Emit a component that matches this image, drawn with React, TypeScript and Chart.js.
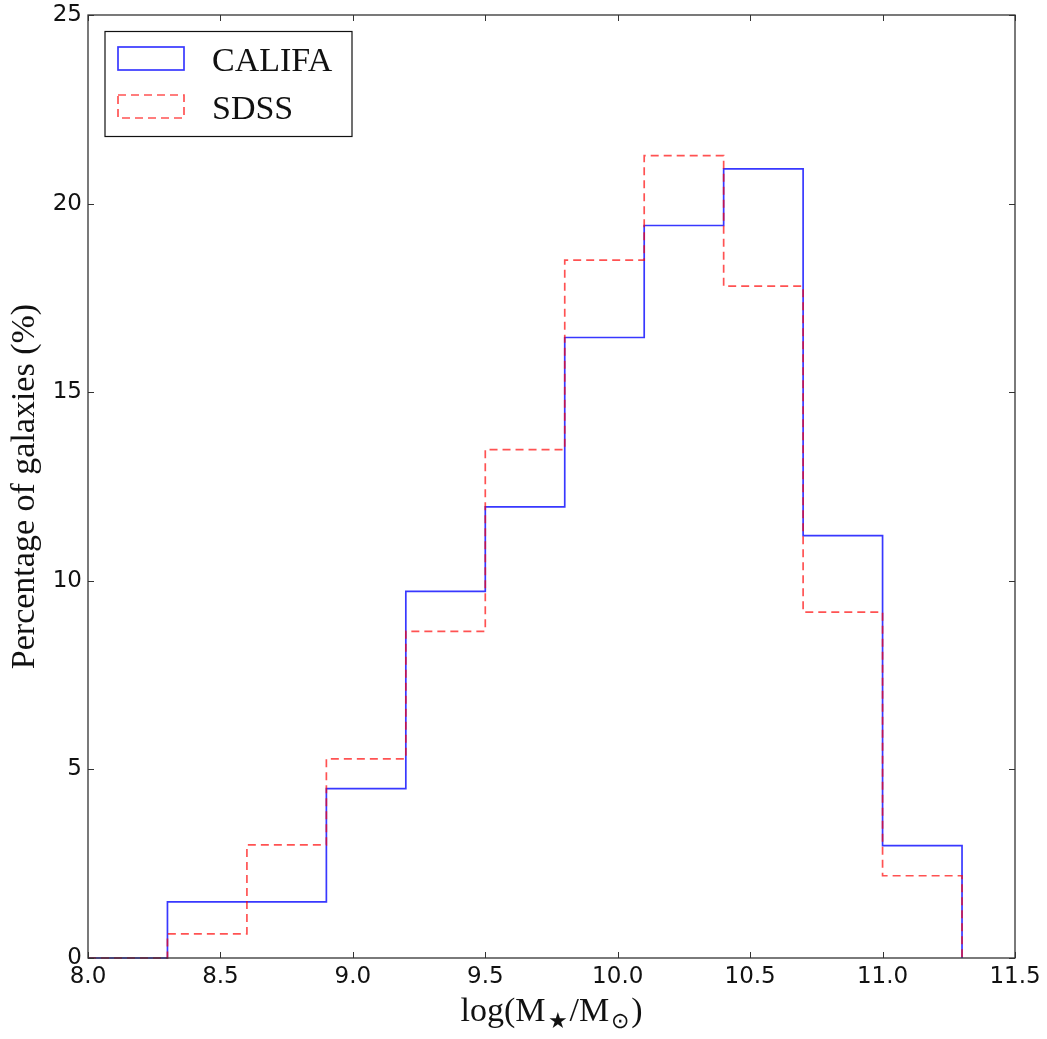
import React, { useEffect, useRef } from "react";
import { Chart, registerables } from "chart.js";

Chart.register(...registerables);

// ---- data ----
const binEdges = [8.0, 8.3, 8.6, 8.9, 9.2, 9.5, 9.8, 10.1, 10.4, 10.7, 11.0, 11.3];
const califaPct = [0, 1.49, 1.49, 4.49, 9.72, 11.96, 16.45, 19.42, 20.92, 11.2, 2.98];
const sdssPct = [0, 0.64, 3.0, 5.28, 8.66, 13.48, 18.5, 21.27, 17.81, 9.17, 2.18];
const seriesNames = ["CALIFA", "SDSS"];
const xTickValues = [8.0, 8.5, 9.0, 9.5, 10.0, 10.5, 11.0, 11.5];
const yTickValues = [0, 5, 10, 15, 20, 25];
const yTitle = "Percentage of galaxies (%)";

const BLUE = "rgba(0,0,255,0.78)";
const RED = "rgba(255,0,0,0.68)";
const DASH = [8, 5];
const SERIF = "'Liberation Serif', 'Times New Roman', serif";
const SANS = "'DejaVu Sans', sans-serif";

function stepOutline(edges: number[], values: number[]) {
  const pts: { x: number; y: number }[] = [{ x: edges[0], y: 0 }];
  values.forEach((v, i) => {
    pts.push({ x: edges[i], y: v });
    pts.push({ x: edges[i + 1], y: v });
  });
  pts.push({ x: edges[edges.length - 1], y: 0 });
  return pts;
}

const framePlugin = {
  id: "frame",
  afterDatasetsDraw(chart: any) {
    const { ctx, chartArea, scales } = chart;
    const { left, right, top, bottom } = chartArea;
    const xs = scales.x;
    const ys = scales.y;
    const tl = 6;
    ctx.save();
    ctx.strokeStyle = "#333";
    ctx.lineWidth = 1;
    ctx.beginPath();
    xTickValues.forEach((v) => {
      const px = Math.round(xs.getPixelForValue(v)) + 0.5;
      ctx.moveTo(px, bottom);
      ctx.lineTo(px, bottom - tl);
      ctx.moveTo(px, top);
      ctx.lineTo(px, top + tl);
    });
    yTickValues.forEach((v) => {
      const py = Math.round(ys.getPixelForValue(v)) + 0.5;
      ctx.moveTo(left, py);
      ctx.lineTo(left + tl, py);
      ctx.moveTo(right, py);
      ctx.lineTo(right - tl, py);
    });
    ctx.stroke();
    ctx.lineWidth = 1.3;
    ctx.strokeStyle = "#333";
    ctx.strokeRect(left, top, right - left, bottom - top);
    ctx.restore();
  },
  afterDraw(chart: any) {
    const { ctx, chartArea } = chart;
    const { left, top, right } = chartArea;
    ctx.save();
    // legend
    const bx = left + 17;
    const by = top + 16.5;
    const bw = 247;
    const bh = 105;
    ctx.fillStyle = "#fff";
    ctx.fillRect(bx, by, bw, bh);
    ctx.strokeStyle = "#111";
    ctx.lineWidth = 1.2;
    ctx.strokeRect(bx, by, bw, bh);
    const styles = [
      { color: BLUE, dash: [] as number[] },
      { color: RED, dash: DASH },
    ];
    seriesNames.forEach((name, i) => {
      const ry = by + 15.5 + i * 48;
      ctx.setLineDash(styles[i].dash);
      ctx.strokeStyle = styles[i].color;
      ctx.lineWidth = 1.7;
      ctx.strokeRect(bx + 13, ry, 66, 23);
      ctx.setLineDash([]);
      ctx.fillStyle = "#111";
      ctx.font = `34px ${SERIF}`;
      ctx.textAlign = "left";
      ctx.textBaseline = "alphabetic";
      ctx.fillText(name, bx + 107, ry + 23.5);
    });
    // x axis title with subscripts
    const big = `34px ${SERIF}`;
    const small = `22px ${SERIF}`;
    const parts: { t: string; f: string; dy: number }[] = [
      { t: "log(M", f: big, dy: 0 },
      { t: "★", f: small, dy: 7 },
      { t: "/M", f: big, dy: 0 },
      { t: "⊙", f: small, dy: 7 },
      { t: ")", f: big, dy: 0 },
    ];
    let total = 0;
    parts.forEach((p) => {
      ctx.font = p.f;
      total += ctx.measureText(p.t).width + (p.f === small ? 4 : 0);
    });
    let x = (left + right) / 2 - total / 2;
    const baseY = 1021;
    ctx.fillStyle = "#111";
    ctx.textAlign = "left";
    ctx.textBaseline = "alphabetic";
    parts.forEach((p) => {
      ctx.font = p.f;
      if (p.f === small) x += 2;
      ctx.fillText(p.t, x, baseY + p.dy);
      x += ctx.measureText(p.t).width + (p.f === small ? 2 : 0);
    });
    ctx.restore();
  },
};

export default function App() {
  const canvasRef = useRef<HTMLCanvasElement | null>(null);

  useEffect(() => {
    const canvas = canvasRef.current;
    if (!canvas) return;
    const chart = new Chart(canvas, {
      type: "scatter",
      data: {
        datasets: [
          {
            label: seriesNames[0],
            data: stepOutline(binEdges, califaPct),
            showLine: true,
            borderColor: BLUE,
            borderWidth: 1.7,
            pointRadius: 0,
            tension: 0,
            fill: false,
            clip: false as any,
            order: 1,
          },
          {
            label: seriesNames[1],
            data: stepOutline(binEdges, sdssPct),
            showLine: true,
            borderColor: RED,
            borderWidth: 1.7,
            borderDash: DASH,
            pointRadius: 0,
            tension: 0,
            fill: false,
            clip: false as any,
            order: 0,
          },
        ],
      },
      options: {
        animation: false,
        responsive: false,
        maintainAspectRatio: false,
        layout: { padding: { left: 0, right: 32, top: 15, bottom: 0 } },
        plugins: {
          legend: { display: false },
          tooltip: { enabled: false },
        },
        scales: {
          x: {
            type: "linear",
            min: 8,
            max: 11.5,
            grid: { display: false, drawTicks: false },
            border: { display: false },
            ticks: {
              stepSize: 0.5,
              autoSkip: false,
              maxRotation: 0,
              padding: 5,
              color: "#111",
              font: { family: SANS, size: 23 },
              callback: (v: any) => Number(v).toFixed(1),
            },
            afterFit: (s: any) => {
              s.height = 81;
              s.paddingLeft = 0;
              s.paddingRight = 0;
            },
          },
          y: {
            type: "linear",
            min: 0,
            max: 25,
            grid: { display: false, drawTicks: false },
            border: { display: false },
            ticks: {
              stepSize: 5,
              autoSkip: false,
              padding: 6,
              color: "#111",
              font: { family: SANS, size: 23 },
              callback: (v: any) => String(v),
            },
            title: {
              display: true,
              text: yTitle,
              color: "#111",
              font: { family: SERIF, size: 34 },
              padding: { top: 5, bottom: 0 },
            },
            afterFit: (s: any) => {
              s.width = 88;
              s.paddingTop = 0;
              s.paddingBottom = 0;
            },
          },
        },
      },
      plugins: [framePlugin],
    });
    return () => chart.destroy();
  }, []);

  return (
    <div style={{ position: "absolute", left: 0, top: 0, width: 1047, height: 1039, background: "#fff" }}>
      <canvas ref={canvasRef} width={1047} height={1039} />
    </div>
  );
}
